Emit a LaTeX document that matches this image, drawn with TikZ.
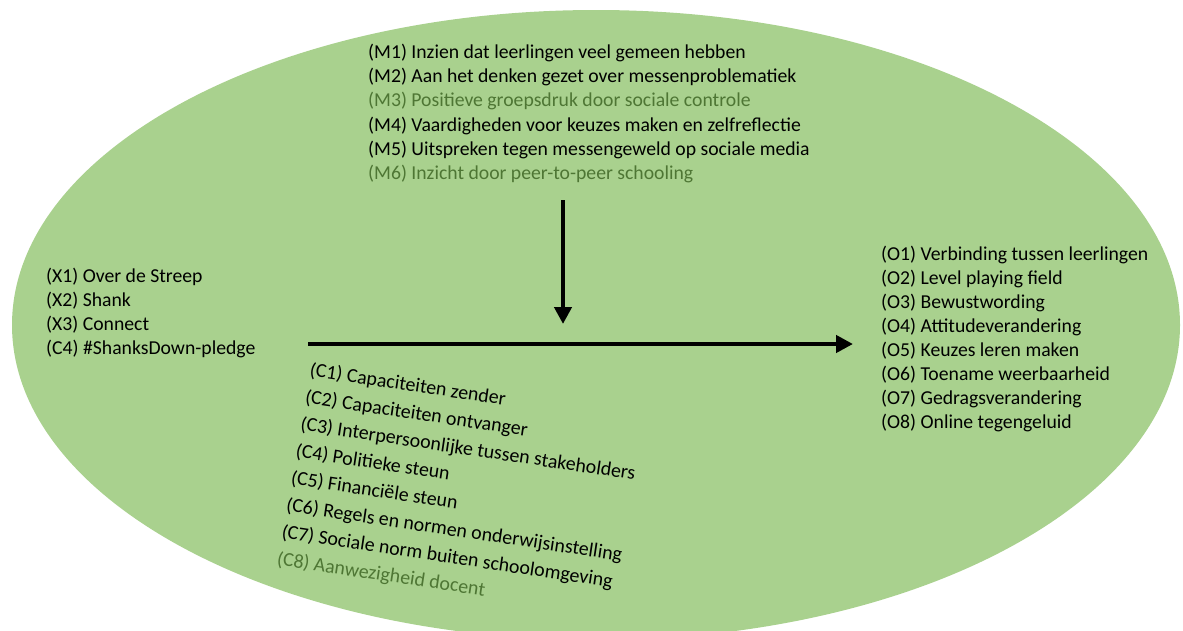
\documentclass[tikz,border=0pt]{standalone}
\usepackage{fontspec}
\setmainfont{Carlito}
\usetikzlibrary{arrows.meta}
\definecolor{ellgreen}{RGB}{169,209,142}
\definecolor{dimgreen}{RGB}{78,118,52}
\tikzset{
  lbl/.style={anchor=base west, inner sep=0pt, font=\fontsize{19.7}{24}\selectfont, text=black},
  dim/.style={text=dimgreen},
  clbl/.style={lbl, rotate=-8.5, font=\fontsize{19.9}{24}\selectfont},
  bigarrow/.style={line width=4.5pt, -{Triangle[width=17pt,length=17pt]}}
}
\begin{document}
\begin{tikzpicture}[x=1pt,y=-1pt]
\useasboundingbox (0,0) rectangle (1183,630);
\fill[ellgreen] (596,325) ellipse [x radius=584, y radius=315];

% M block
\node[lbl] (m1) at (368,58) {(M1) Inzien dat leerlingen veel gemeen hebben};
\node[lbl] (m2) at (368,82) {(M2) Aan het denken gezet over messenproblematiek};
\node[lbl,dim] (m3) at (368,106) {(M3) Positieve groepsdruk door sociale controle};
\node[lbl] (m4) at (368,131) {(M4) Vaardigheden voor keuzes maken en zelfreflectie};
\node[lbl] (m5) at (368,155) {(M5) Uitspreken tegen messengeweld op sociale media};
\node[lbl,dim] (m6) at (368,179) {(M6) Inzicht door peer-to-peer schooling};

% X block
\node[lbl] (x1) at (46,282) {(X1) Over de Streep};
\node[lbl] (x2) at (46,306) {(X2) Shank};
\node[lbl] (x3) at (46,330) {(X3) Connect};
\node[lbl] (x4) at (46,354) {(C4) \#ShanksDown-pledge};

% O block
\node[lbl] (o1) at (881,260) {(O1) Verbinding tussen leerlingen};
\node[lbl] (o2) at (881,284) {(O2) Level playing field};
\node[lbl] (o3) at (881,308) {(O3) Bewustwording};
\node[lbl] (o4) at (881,332) {(O4) Attitudeverandering};
\node[lbl] (o5) at (881,356) {(O5) Keuzes leren maken};
\node[lbl] (o6) at (881,380) {(O6) Toename weerbaarheid};
\node[lbl] (o7) at (881,404) {(O7) Gedragsverandering};
\node[lbl] (o8) at (881,428) {(O8) Online tegengeluid};

% C block (tilted)
\node[clbl] (c1) at (309,376) {(C1) Capaciteiten zender};
\node[clbl] (c2) at (304.3,403) {(C2) Capaciteiten ontvanger};
\node[clbl] (c3) at (299.6,430) {(C3) Interpersoonlijke tussen stakeholders};
\node[clbl] (c4) at (294.9,457) {(C4) Politieke steun};
\node[clbl] (c5) at (290.2,484) {(C5) Financiële steun};
\node[clbl] (c6) at (285.5,511) {(C6) Regels en normen onderwijsinstelling};
\node[clbl] (c7) at (280.8,538) {(C7) Sociale norm buiten schoolomgeving};
\node[clbl,dim] (c8) at (276.1,565) {(C8) Aanwezigheid docent};

% arrows
\coordinate (vtop) at (563,200);
\coordinate (vbot) at (563,324);
\coordinate (hl) at (308,344);
\coordinate (hr) at (853,344);
\draw[bigarrow] (vtop) -- (vbot);
\draw[bigarrow] (hl) -- (hr);
\end{tikzpicture}
\end{document}
